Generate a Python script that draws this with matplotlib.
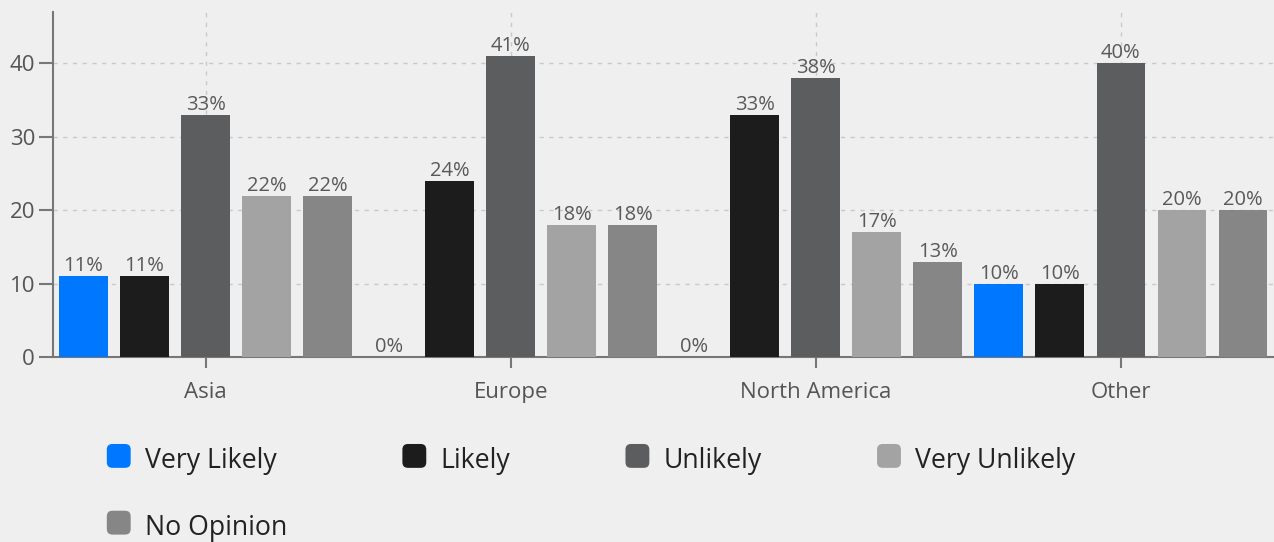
import matplotlib.pyplot as plt
import numpy as np
from matplotlib.patches import FancyBboxPatch, Patch
from matplotlib.legend_handler import HandlerPatch

regions = ["Asia", "Europe", "North America", "Other"]
series = ["Very Likely", "Likely", "Unlikely", "Very Unlikely", "No Opinion"]
very_likely = [11, 0, 0, 10]
likely = [11, 24, 33, 10]
unlikely = [33, 41, 38, 40]
very_unlikely = [22, 18, 17, 20]
no_opinion = [22, 18, 13, 20]
colors = ["#0077ff", "#1c1c1c", "#5c5d5f", "#a3a3a3", "#868686"]

plt.rcParams['font.family'] = ['Open Sans', 'DejaVu Sans']

bg = "#efefef"
fig = plt.figure(figsize=(12.74, 5.42), dpi=100, facecolor=bg)
ax = fig.add_axes([0.0416, 0.3413, 0.958, 0.6366], facecolor=bg)

values = [very_likely, likely, unlikely, very_unlikely, no_opinion]
x = np.arange(len(regions))
width = 0.16
for i, (name, vals, c) in enumerate(zip(series, values, colors)):
    bars = ax.bar(x + (i - 2) * 0.2, vals, width, color=c, label=name, zorder=3)
    ax.bar_label(bars, labels=[f"{v}%" for v in vals], padding=0,
                 fontsize=14.5, color="#595959")

ax.set_xlim(-0.5, 3.5)
ax.set_ylim(0, 47)
ax.set_xticks(x)
ax.set_xticklabels(regions)
ax.set_yticks([0, 10, 20, 30, 40])
ax.grid(True, linestyle=(0, (3, 4)), color="#c9c9c9", linewidth=1, zorder=0)

for s in ["top", "right"]:
    ax.spines[s].set_visible(False)
for s in ["left", "bottom"]:
    ax.spines[s].set_color("#777777")
    ax.spines[s].set_linewidth(1.5)
ax.tick_params(axis="y", length=10, width=1.5, color="#777777",
               labelsize=16, labelcolor="#555555", pad=3)
ax.tick_params(axis="x", length=8, width=1.5, color="#777777",
               labelsize=16, labelcolor="#555555", pad=10)


class RoundBox(HandlerPatch):
    def create_artists(self, legend, orig_handle, xdescent, ydescent,
                       width, height, fontsize, trans):
        s = min(width, height)
        p = FancyBboxPatch((-xdescent, -ydescent + (height - s) / 2 + 2),
                           s, s,
                           boxstyle="round,pad=0,rounding_size=4",
                           facecolor=orig_handle.get_facecolor(),
                           edgecolor="none", transform=trans)
        return [p]


# legend fills column by column, so put "No Opinion" second to land under the first
order = [0, 4, 1, 2, 3]
handles = [Patch(facecolor=colors[i]) for i in order]
labels = [series[i] for i in order]
leg = fig.legend(handles, labels, loc="upper left",
                 bbox_to_anchor=(0.065, 0.22), ncol=4, frameon=False,
                 fontsize=19.2, labelcolor="#222222",
                 handlelength=1.0, handleheight=1.0, handletextpad=0.42,
                 columnspacing=4.33, labelspacing=1.45,
                 handler_map={Patch: RoundBox()})

fig.savefig("out.png", dpi=100, facecolor=bg)
